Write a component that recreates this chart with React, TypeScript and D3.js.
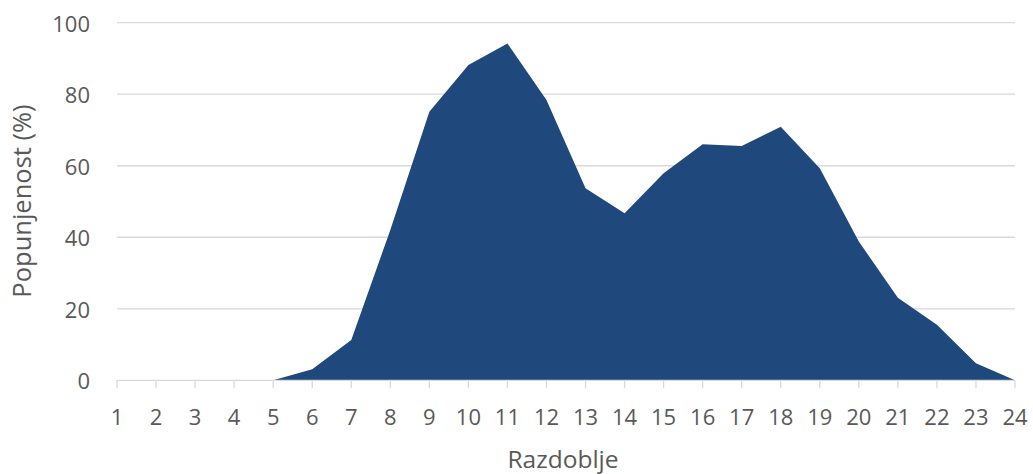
import React from "react";
import * as d3 from "d3";

const categories: string[] = Array.from({ length: 24 }, (_, i) => String(i + 1));
const occupancy: number[] = [0, 0, 0, 0, 0, 3.1, 11.3, 42, 75.1, 88.2, 94.2, 78.4, 53.7, 46.7, 57.9, 66.0, 65.5, 70.9, 59.3, 38.8, 23.1, 15.5, 4.8, 0];
const yTicks: number[] = [0, 20, 40, 60, 80, 100];
const xTitle = "Razdoblje";
const yTitle = "Popunjenost (%)";

const W = 1033;
const H = 474;
const left = 117;
const right = 1015;
const top = 22.7;
const bottom = 380.3;
const font = "'Open Sans', 'Segoe UI', sans-serif";
const textColor = "#595959";
const gridColor = "#D9D9D9";

export default function App() {
  const x = d3.scalePoint<string>().domain(categories).range([left, right]);
  const y = d3.scaleLinear().domain([0, 100]).range([bottom, top]);
  const area = d3
    .area<number>()
    .x((_, i) => x(categories[i]) as number)
    .y0(y(0))
    .y1((d) => y(d));

  return (
    <svg width={W} height={H} style={{ position: "absolute", left: 0, top: 0, background: "#fff" }}>
      {yTicks.map((t) => (
        <g key={t}>
          {t !== 0 && (
            <line x1={left} x2={right} y1={y(t)} y2={y(t)} stroke={gridColor} strokeWidth={1.3} />
          )}
          <text
            x={90}
            y={y(t)}
            textAnchor="end"
            dominantBaseline="central"
            fontFamily={font}
            fontSize={22}
            fill={textColor}
          >
            {t}
          </text>
        </g>
      ))}
      <path d={area(occupancy) || ""} fill="#1F497D" />
      <line x1={left} x2={right} y1={y(0)} y2={y(0)} stroke={gridColor} strokeWidth={1.3} />
      {categories.map((c) => (
        <g key={c}>
          <line x1={x(c)} x2={x(c)} y1={y(0)} y2={y(0) + 8} stroke={gridColor} strokeWidth={1.3} />
          <text
            x={x(c)}
            y={425}
            textAnchor="middle"
            fontFamily={font}
            fontSize={22}
            fill={textColor}
          >
            {c}
          </text>
        </g>
      ))}
      <text x={563} y={468} textAnchor="middle" fontFamily={font} fontSize={24.5} fill={textColor}>
        {xTitle}
      </text>
      <text
        transform={`translate(31, 201) rotate(-90)`}
        textAnchor="middle"
        fontFamily={font}
        fontSize={25.5}
        fill={textColor}
      >
        {yTitle}
      </text>
    </svg>
  );
}
